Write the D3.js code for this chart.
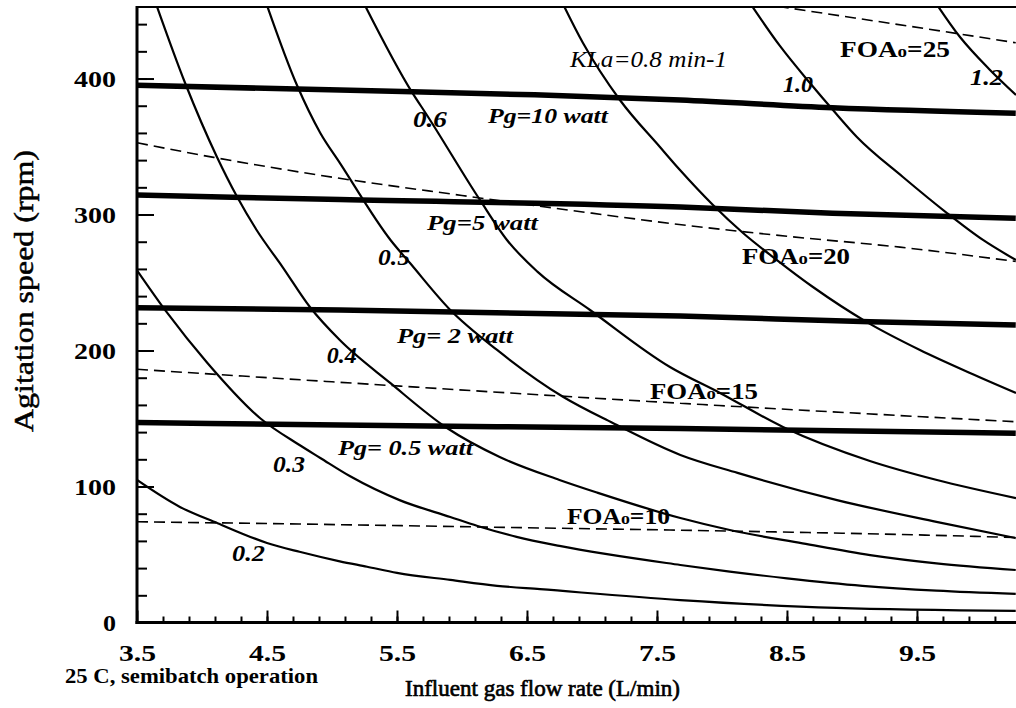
<!DOCTYPE html>
<html>
<head>
<meta charset="utf-8">
<script src="https://cdn.jsdelivr.net/npm/d3@7"></script>
<style>
body { margin: 0; background: #fff; }
svg text { font-family: "Liberation Serif", "Times New Roman", serif; fill: #000; }
</style>
</head>
<body>
<div class="graph"></div>
<script>
// KLa curves (min-1): [gas flow L/min, agitation rpm]
var kla02 = [[3.5,104.8],[3.83,85],[4.12,73],[4.5,58.5],[4.75,52],[5.06,45],[5.27,41],[5.5,36.5],[5.91,31.3],[6.27,27],[6.6,24.5],[7.68,16.5],[8.88,10.7],[10.26,8.5]];
var kla03 = [[3.5,259],[3.73,228],[4.04,191],[4.45,150],[4.75,130.5],[4.91,121],[5.14,107.5],[5.52,90],[5.91,77.6],[6.12,71],[6.42,63],[6.75,56.3],[7.68,42.3],[8.06,37.4],[8.5,32.5],[9.08,27],[9.65,23.4],[10.26,21]];
var kla04 = [[3.62,462],[3.87,396.7],[4.115,342.3],[4.27,313],[4.42,288.6],[4.62,261.4],[4.83,232],[5.06,207.7],[5.45,176],[5.885,143],[6.29,121.7],[6.75,104.8],[7.04,95.5],[7.68,76.8],[8.06,68],[8.62,58.2],[9.14,49.6],[9.65,43.5],[10.26,38.6]];
var kla05 = [[4.47,462],[4.73,395.2],[4.91,360],[5.06,338],[5.45,281.3],[5.6,264.3],[5.91,229.8],[6.27,200.4],[6.78,165.8],[7.16,146.7],[7.68,123.2],[8.12,110],[8.885,90],[9.65,74],[10.26,62.1]];
var kla06 = [[5.21,462],[5.615,390],[5.731,373],[6.138,310.7],[6.346,281.3],[6.58,258],[6.985,229.8],[7.6,187.9],[7.985,168.8],[8.469,143.8],[9.138,118.8],[9.654,104.8],[10.262,91.5]];
var kla08 = [[6.74,462],[6.931,426.1],[7.215,384.2],[7.523,349.6],[7.677,332.7],[7.931,307],[8.162,286.4],[8.423,266.5],[8.7,246.7],[9.115,220.9],[9.523,200.4],[9.908,183.5],[10.262,168.8]];
var kla10 = [[8.17,462],[8.446,424],[8.677,396.7],[8.854,376.8],[9.038,357],[9.392,327.6],[9.731,301.1],[10.008,281.3],[10.262,266.5]];
var kla12 = [[9.6,462],[9.831,430.5],[10.062,406.3],[10.262,387.9]];

// gassed power lines (thick)
var pg05 = [[3.5,147],[5.06,145.2],[7.68,142.6],[10.26,139.1]];
var pg2  = [[3.5,231.5],[5.06,229.8],[7.68,225.3],[9.14,221.2],[10.26,218.8]];
var pg5  = [[3.5,314.3],[5.06,311],[7.68,305.5],[8.85,301],[10.26,297.2]];
var pg10 = [[3.5,395],[5.06,391.5],[6.56,388],[7.68,384.2],[8.85,378.5],[10.26,374.5]];

// FOAo lines (dashed)
var foa10 = [[3.5,74.1],[4.75,72.4],[6.75,69.3],[7.6,68],[10.04,63.1],[10.26,62.5]];
var foa15 = [[3.5,186.2],[5.0,177],[7.68,161.2],[10.26,147.6]];
var foa20 = [[3.5,352.8],[4.09,342],[5.0,327.5],[6.0,314],[7.0,301],[7.6,293.5],[8.5,284],[9.37,276],[10.26,265.5]];
var foa25 = [[8.3,455],[8.45,452.8],[9.8,433.2],[10.26,426.3]];

// ticks
var xMajor = [3.5,4.5,5.5,6.5,7.5,8.5,9.5];
var xTickLabels = ["3.5","4.5","5.5","6.5","7.5","8.5","9.5"];
var yMajor = [0,100,200,300,400];
var yTickLabels = ["0","100","200","300","400"];
var xMinor = d3.range(3.7, 10.2, 0.2);
var yMinor = d3.range(20, 460, 20);

// Scales
var x = d3.scaleLinear().domain([3.5, 10.262]).range([137, 1016]);
var y = d3.scaleLinear().domain([0, 452.6]).range([622.5, 7]);

var svg = d3.select(".graph").append("svg")
    .attr("width", 1016)
    .attr("height", 708);

svg.append("clipPath").attr("id", "plot")
  .append("rect").attr("x", 137).attr("y", 7).attr("width", 879).attr("height", 615.5);

var line = d3.line()
    .x(function(d) { return x(d[0]); })
    .y(function(d) { return y(d[1]); })
    .curve(d3.curveMonotoneX);

var plot = svg.append("g").attr("clip-path", "url(#plot)");

plot.selectAll(".pg")
    .data([pg05, pg2, pg5, pg10])
    .enter().append("path")
    .attr("d", line)
    .attr("fill", "none").attr("stroke", "#000").attr("stroke-width", 5.5);

plot.selectAll(".foa")
    .data([foa10, foa15, foa20, foa25])
    .enter().append("path")
    .attr("d", line)
    .attr("fill", "none").attr("stroke", "#000").attr("stroke-width", 1.6)
    .attr("stroke-dasharray", "11,6");

plot.selectAll(".kla")
    .data([kla02, kla03, kla04, kla05, kla06, kla08, kla10, kla12])
    .enter().append("path")
    .attr("d", line)
    .attr("fill", "none").attr("stroke", "#000").attr("stroke-width", 2.2);

// Axes
svg.append("g").attr("transform", "translate(137,0)")
    .call(d3.axisLeft(y).tickValues(yMinor).tickSize(-10).tickSizeOuter(0).tickFormat(""))
    .call(function(g) { g.select(".domain").remove(); });
var gy = svg.append("g").attr("transform", "translate(137,0)")
    .call(d3.axisLeft(y).tickValues(yMajor).tickSize(-17).tickSizeOuter(0).tickPadding(21)
        .tickFormat(function(d, i) { return yTickLabels[i]; }));
gy.select(".domain").remove();
gy.selectAll("text")
    .attr("font-size", 24).attr("font-weight", "bold")
    .attr("textLength", function(d, i) { return yTickLabels[i].length === 1 ? 13 : 42; })
    .attr("lengthAdjust", "spacingAndGlyphs");

svg.append("g").attr("transform", "translate(0,622.5)")
    .call(d3.axisBottom(x).tickValues(xMinor).tickSize(-6).tickSizeOuter(0).tickFormat(""))
    .call(function(g) { g.select(".domain").remove(); });
var gx = svg.append("g").attr("transform", "translate(0,622.5)")
    .call(d3.axisBottom(x).tickValues(xMajor).tickSize(-12).tickSizeOuter(0).tickPadding(21)
        .tickFormat(function(d, i) { return xTickLabels[i]; }));
gx.select(".domain").remove();
gx.selectAll("text")
    .attr("font-size", 24).attr("font-weight", "bold")
    .attr("textLength", 37).attr("lengthAdjust", "spacingAndGlyphs");

svg.selectAll(".tick line").attr("stroke", "#000").attr("stroke-width", 2);

// frame
svg.append("line").attr("x1", x(3.5)).attr("x2", x(3.5)).attr("y1", y(452.6) - 1).attr("y2", y(0) + 1.5)
    .attr("stroke", "#000").attr("stroke-width", 3);
svg.append("line").attr("x1", x(3.5) - 1.5).attr("x2", x(10.262)).attr("y1", y(0)).attr("y2", y(0))
    .attr("stroke", "#000").attr("stroke-width", 3);
svg.append("line").attr("x1", x(3.5)).attr("x2", x(10.262)).attr("y1", y(452.6)).attr("y2", y(452.6))
    .attr("stroke", "#000").attr("stroke-width", 2.2);

// Annotations, placed in data units
var notes = [
  {t: "KLa=0.8 min-1", x: 6.831, y: 408.5, s: 24, w: "normal", i: true, len: 157},
  {t: "1.0", x: 8.469, y: 390.3, s: 23, w: "bold", i: true, len: 30},
  {t: "1.2", x: 9.908, y: 395.2, s: 23, w: "bold", i: true, len: 33},
  {t: "0.6", x: 5.623, y: 364.6, s: 23, w: "bold", i: true, len: 34},
  {t: "Pg=10 watt", x: 6.2, y: 367.1, s: 21, w: "bold", i: true, len: 120},
  {t: "Pg=5 watt", x: 5.731, y: 288.6, s: 21, w: "bold", i: true, len: 111},
  {t: "0.5", x: 5.354, y: 262.9, s: 23, w: "bold", i: true, len: 32},
  {t: "Pg= 2 watt", x: 5.5, y: 205.3, s: 21, w: "bold", i: true, len: 116},
  {t: "0.4", x: 4.96, y: 190.6, s: 23, w: "bold", i: true, len: 30},
  {t: "Pg= 0.5 watt", x: 5.046, y: 123.2, s: 21, w: "bold", i: true, len: 135},
  {t: "0.3", x: 4.546, y: 110.7, s: 23, w: "bold", i: true, len: 32},
  {t: "0.2", x: 4.231, y: 45.4, s: 23, w: "bold", i: true, len: 33}
];
var foaNotes = [
  {v: "25", x: 8.908, y: 416, len: 110},
  {v: "20", x: 8.154, y: 263.6, len: 108},
  {v: "15", x: 7.446, y: 164.3, len: 108},
  {v: "10", x: 6.808, y: 72.4, len: 103}
];

svg.selectAll(".note")
    .data(notes)
    .enter().append("text")
    .attr("x", function(d) { return x(d.x); })
    .attr("y", function(d) { return y(d.y); })
    .attr("font-size", function(d) { return d.s; })
    .attr("font-weight", function(d) { return d.w; })
    .attr("font-style", function(d) { return d.i ? "italic" : "normal"; })
    .attr("textLength", function(d) { return d.len; })
    .attr("lengthAdjust", "spacingAndGlyphs")
    .text(function(d) { return d.t; });

var foaText = svg.selectAll(".foa-note")
    .data(foaNotes)
    .enter().append("text")
    .attr("x", function(d) { return x(d.x); })
    .attr("y", function(d) { return y(d.y); })
    .attr("font-size", 23).attr("font-weight", "bold")
    .attr("textLength", function(d) { return d.len; })
    .attr("lengthAdjust", "spacingAndGlyphs");
foaText.append("tspan").text("FOA");
foaText.append("tspan").attr("font-size", 16).text("o");
foaText.append("tspan").text(function(d) { return "=" + d.v; });

// Axis titles
svg.append("text")
    .attr("transform", "translate(33,291) rotate(-90)")
    .attr("text-anchor", "middle")
    .attr("font-size", 27)
    .attr("stroke", "#000").attr("stroke-width", 0.5)
    .attr("textLength", 282).attr("lengthAdjust", "spacingAndGlyphs")
    .text("Agitation speed (rpm)");

svg.append("text")
    .attr("x", 542.5).attr("y", 696)
    .attr("text-anchor", "middle")
    .attr("font-size", 24)
    .attr("stroke", "#000").attr("stroke-width", 0.7)
    .attr("textLength", 275).attr("lengthAdjust", "spacingAndGlyphs")
    .text("Influent gas flow rate (L/min)");

svg.append("text")
    .attr("x", 65).attr("y", 683)
    .attr("font-size", 21).attr("font-weight", "bold")
    .attr("textLength", 253).attr("lengthAdjust", "spacingAndGlyphs")
    .text("25 C, semibatch operation");
</script>
</body>
</html>
